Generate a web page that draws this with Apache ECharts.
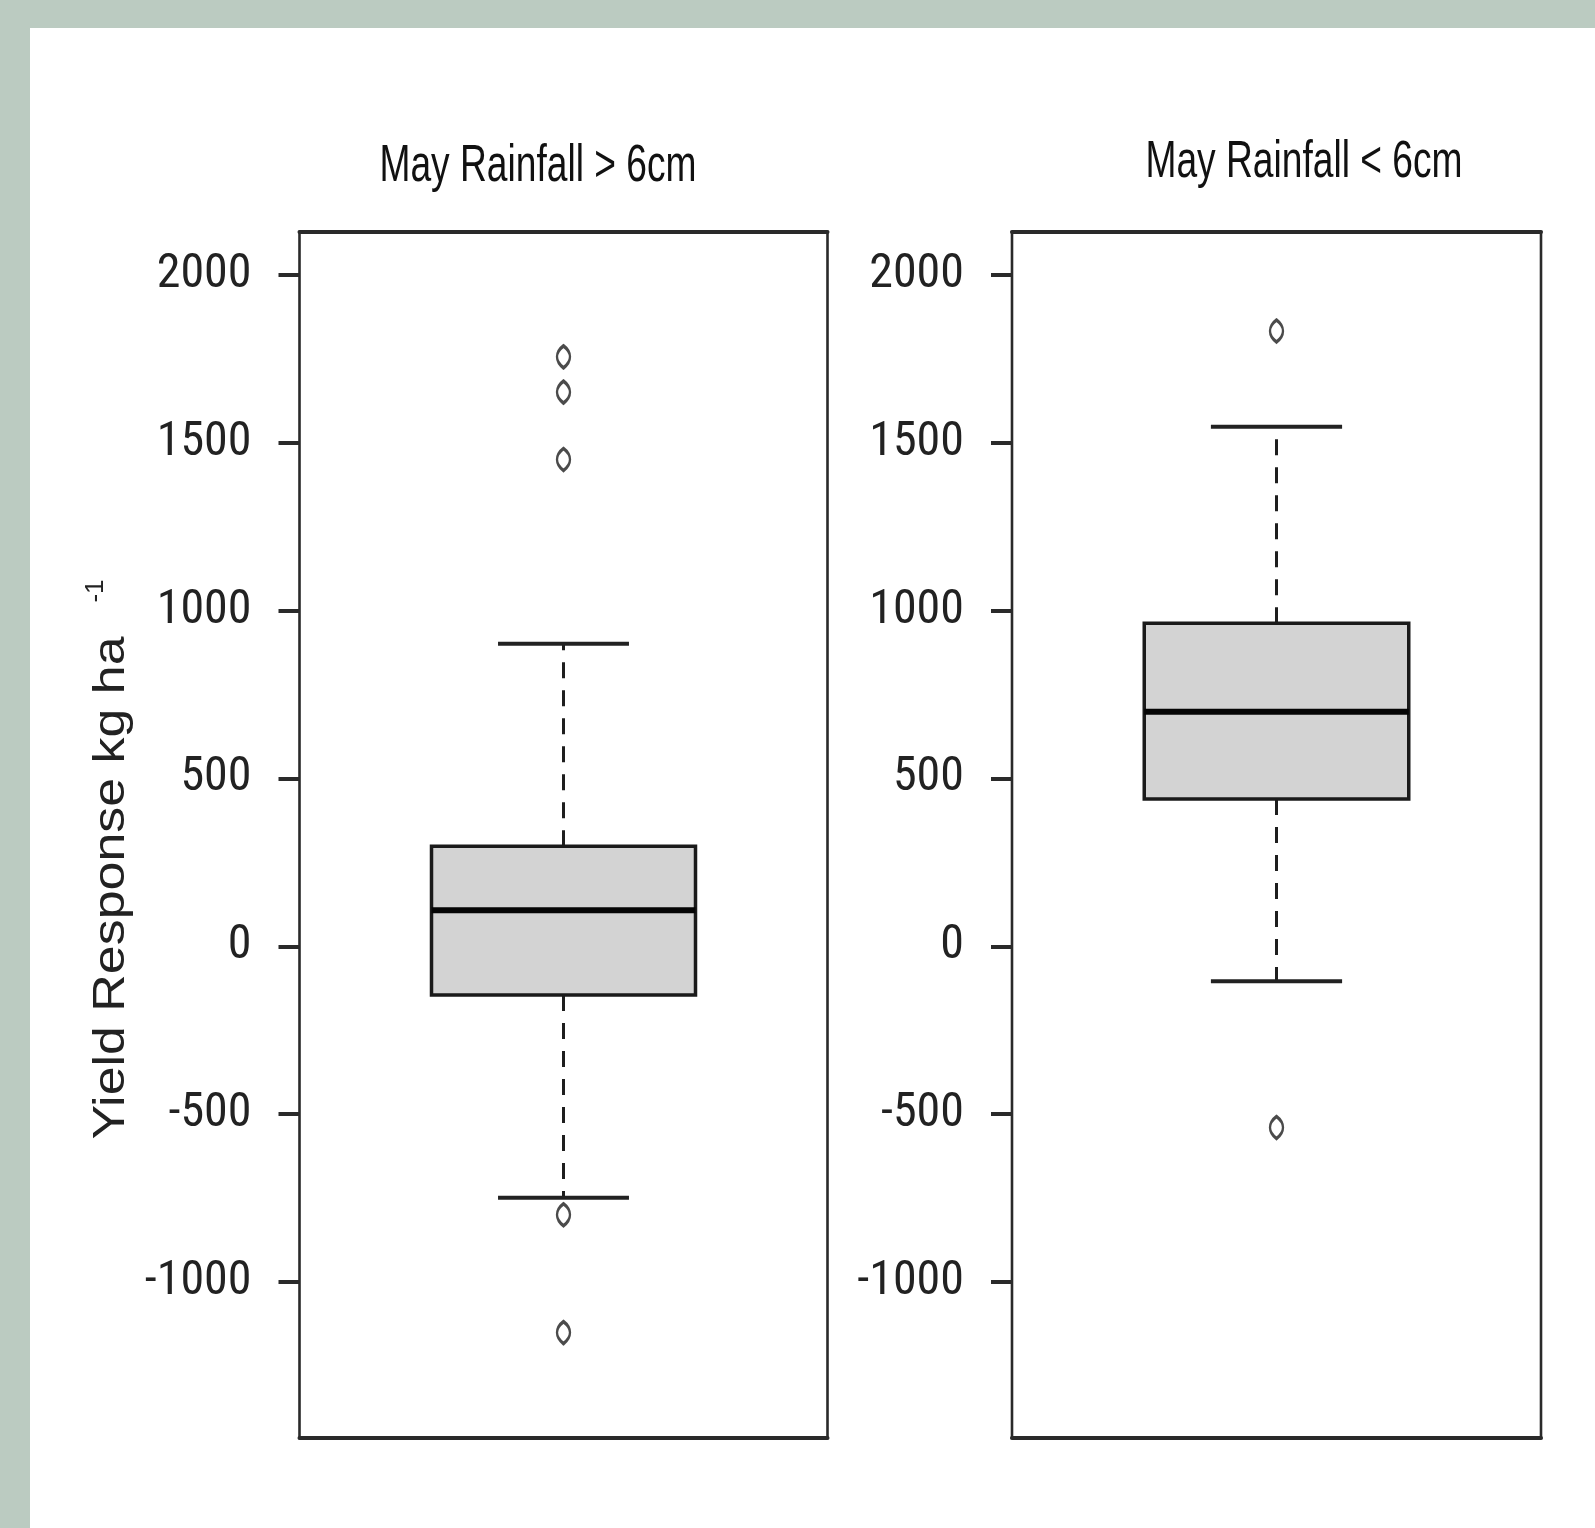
<!DOCTYPE html>
<html><head><meta charset="utf-8">
<script src="https://cdn.jsdelivr.net/npm/echarts@6/dist/echarts.min.js"></script>
<style>
html,body{margin:0;padding:0;background:#BBCBC1;width:1595px;height:1528px;overflow:hidden;}
#chart{position:absolute;left:30px;top:28px;width:1565px;height:1500px;background:#ffffff;}
</style></head><body><div id="chart"></div>
<script>
// ---- data ----
const panelTitles = ['May Rainfall > 6cm', 'May Rainfall < 6cm'];
const tickValues = [-1000, -500, 0, 500, 1000, 1500, 2000];
const yAxisName = 'Yield Response kg ha';
const yAxisSup = '-1';
// [lower whisker, Q1, median, Q3, upper whisker]
const boxHigh = [-749, -145, 107, 298, 901];
const boxLow = [-104, 439, 699, 962, 1548];
const outliersHigh = [1756, 1651, 1450, -800, -1151];
const outliersLow = [1833, -540];
const yMin = -1465, yMax = 2128;

// ---- style ----
const CENTER = 0.5, BOX_HALF = 0.25, CAP_HALF = 0.124;
const tickFont = "'Noto Sans Condensed', 'Roboto Condensed', 'Liberation Sans', Arial, sans-serif";
const textFont = "'Liberation Sans', Arial, sans-serif";
const pointSymbol = 'path://M0,-11 C4,-8 6.5,-4 6.5,0 C6.5,4 4,8 0,11 C-4,8 -6.5,4 -6.5,0 C-6.5,-4 -4,-8 0,-11 Z';
const chart = echarts.init(document.getElementById('chart'), null, {renderer: 'canvas'});

function renderBox(params, api) {
  const x = api.value(0);
  const lw = api.value(1), q1 = api.value(2), med = api.value(3), q3 = api.value(4), uw = api.value(5);
  const c = v => api.coord([x, v]);
  const l = (dx, v) => api.coord([x + dx, v]);
  const boxTL = l(-BOX_HALF, q3), boxBR = l(BOX_HALF, q1);
  const dash = {stroke: '#1e1e1e', lineWidth: 3, lineDash: [16, 12]};
  const cap = {stroke: '#222', lineWidth: 4};
  return {type: 'group', children: [
    {type: 'line', shape: {x1: c(q3)[0], y1: c(q3)[1], x2: c(uw)[0], y2: c(uw)[1]}, style: dash},
    {type: 'line', shape: {x1: c(q1)[0], y1: c(q1)[1], x2: c(lw)[0], y2: c(lw)[1]}, style: dash},
    {type: 'line', shape: {x1: l(-CAP_HALF, uw)[0], y1: l(-CAP_HALF, uw)[1], x2: l(CAP_HALF, uw)[0], y2: l(CAP_HALF, uw)[1]}, style: cap},
    {type: 'line', shape: {x1: l(-CAP_HALF, lw)[0], y1: l(-CAP_HALF, lw)[1], x2: l(CAP_HALF, lw)[0], y2: l(CAP_HALF, lw)[1]}, style: cap},
    {type: 'rect', shape: {x: boxTL[0], y: boxTL[1], width: boxBR[0] - boxTL[0], height: boxBR[1] - boxTL[1]},
      style: {fill: '#D3D3D3', stroke: '#1a1a1a', lineWidth: 3.5}},
    {type: 'line', shape: {x1: l(-BOX_HALF, med)[0], y1: l(-BOX_HALF, med)[1], x2: l(BOX_HALF, med)[0], y2: l(BOX_HALF, med)[1]},
      style: {stroke: '#050505', lineWidth: 6}}
  ]};
}

function xAx(gi, pos, w) {
  return {type: 'value', gridIndex: gi, min: 0, max: 1, position: pos,
    axisLine: {show: true, onZero: false, lineStyle: {color: '#2a2a2a', width: w}},
    axisTick: {show: false}, axisLabel: {show: false}, splitLine: {show: false}};
}
function yAx(gi) {
  return {type: 'value', gridIndex: gi, min: yMin, max: yMax,
    axisLine: {show: false},
    axisTick: {show: true, inside: false, length: 21, customValues: tickValues, lineStyle: {color: '#2a2a2a', width: 4}},
    axisLabel: {show: true, customValues: tickValues, margin: 48, fontFamily: tickFont, fontSize: 48, color: '#222',
      formatter: v => String(v)},
    splitLine: {show: false}};
}

const pointStyle = {color: 'rgba(255,255,255,0)', borderColor: '#1e1e1e', borderWidth: 3};

const option = {
  animation: false,
  grid: [
    {left: 269.5, top: 204, width: 528, height: 1206, show: true, borderColor: '#2a2a2a', borderWidth: 2.6, backgroundColor: 'transparent'},
    {left: 982, top: 204, width: 529, height: 1206, show: true, borderColor: '#2a2a2a', borderWidth: 2.6, backgroundColor: 'transparent'}
  ],
  xAxis: [xAx(0, 'bottom', 4), xAx(0, 'top', 4), xAx(1, 'bottom', 4), xAx(1, 'top', 4)],
  yAxis: [yAx(0), yAx(1)],
  graphic: [
    {type: 'text', x: 508, y: 139, scaleX: 0.715, style: {text: panelTitles[0], fontFamily: textFont, fontSize: 52, fill: '#111', align: 'center', verticalAlign: 'middle'}},
    {type: 'text', x: 1274, y: 134.5, scaleX: 0.715, style: {text: panelTitles[1], fontFamily: textFont, fontSize: 52, fill: '#111', align: 'center', verticalAlign: 'middle'}},
    {type: 'text', x: 82, y: 860, rotation: Math.PI / 2, scaleX: 1.18, style: {text: yAxisName, fontFamily: textFont, fontSize: 44, fill: '#222', align: 'center', verticalAlign: 'middle'}},
    {type: 'text', x: 66, y: 563, rotation: Math.PI / 2, style: {text: yAxisSup, fontFamily: textFont, fontSize: 26, fill: '#222', align: 'center', verticalAlign: 'middle'}}
  ],
  series: [
    {type: 'custom', xAxisIndex: 0, yAxisIndex: 0, renderItem: renderBox, data: [[CENTER].concat(boxHigh)], z: 3},
    {type: 'custom', xAxisIndex: 2, yAxisIndex: 1, renderItem: renderBox, data: [[CENTER].concat(boxLow)], z: 3},
    {type: 'scatter', xAxisIndex: 0, yAxisIndex: 0, symbol: pointSymbol, symbolSize: [13, 22],
      itemStyle: pointStyle, data: outliersHigh.map(v => [CENTER, v]), z: 4},
    {type: 'scatter', xAxisIndex: 2, yAxisIndex: 1, symbol: pointSymbol, symbolSize: [13, 22],
      itemStyle: pointStyle, data: outliersLow.map(v => [CENTER, v]), z: 4}
  ]
};
chart.setOption(option);
</script></body></html>
